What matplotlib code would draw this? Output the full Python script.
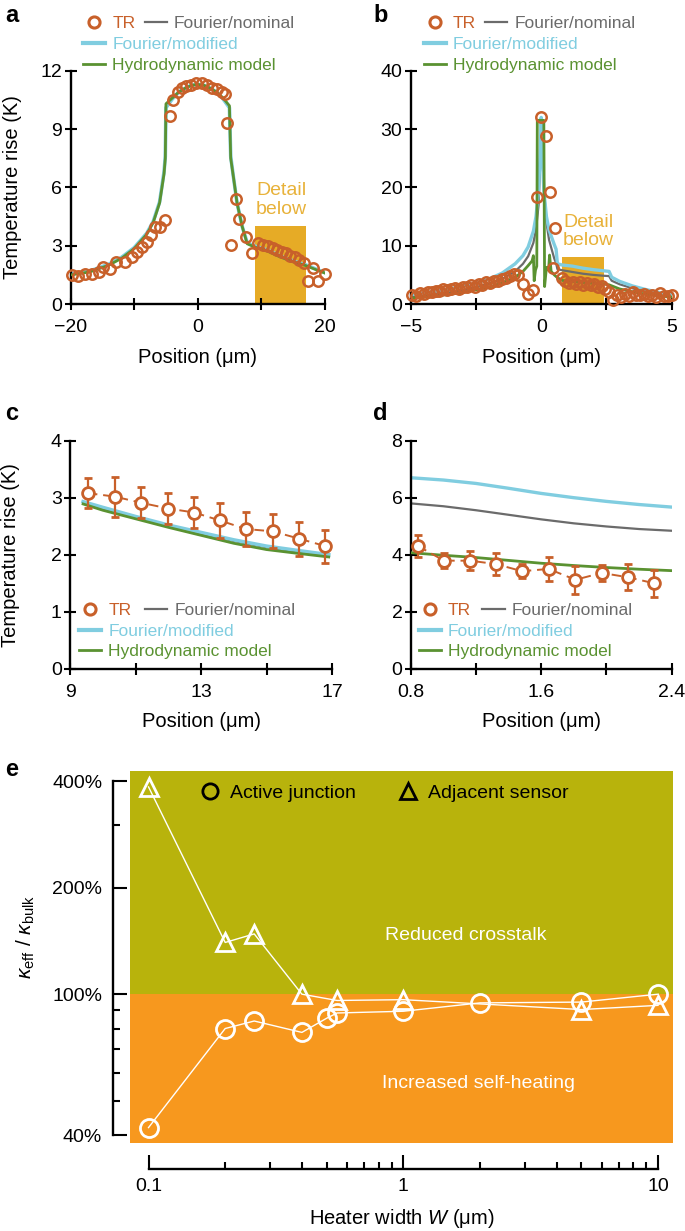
import numpy as np
import matplotlib
matplotlib.use('Agg')
import matplotlib.pyplot as plt
from matplotlib.lines import Line2D
from matplotlib.ticker import FixedLocator, NullFormatter

plt.rcParams['font.family'] = ['Liberation Sans', 'DejaVu Sans']
plt.rcParams['mathtext.fontset'] = 'custom'
plt.rcParams['mathtext.rm'] = 'Liberation Sans'
plt.rcParams['mathtext.it'] = 'Liberation Sans:italic'

# colours
C_TR = '#c8602a'
C_NOM = '#6b6b6b'
C_MOD = '#80cde0'
C_HYD = '#5a9231'
C_BOX = '#e6ab26'
C_BOXTXT = '#e8b23a'
C_BG_HI = '#b8b30c'
C_BG_LO = '#f7981e'

# ---- panel a : full profile, wide heater ----
a_tr_x = [-19.8, -18.8, -17.7, -16.7, -15.6, -14.9, -13.8, -12.8, -11.5, -10.4, -9.6, -8.8,
          -8.0, -7.3, -6.7, -6.0, -5.1, -4.4, -3.9, -3.1, -2.5, -1.8, -1.0, -0.2, 0.6, 1.4,
          2.2, 3.0, 3.75, 4.3, 4.6, 5.2, 6.1, 6.5, 7.6, 8.6, 9.5, 10.3, 11.1, 11.8, 12.5,
          13.2, 13.9, 14.6, 15.3, 16.0, 16.7, 17.4, 18.2, 18.9, 20.0]
a_tr_y = [1.49, 1.44, 1.54, 1.54, 1.66, 1.92, 1.78, 2.18, 2.18, 2.40, 2.69, 2.95,
          3.20, 3.55, 3.98, 3.98, 4.32, 9.67, 10.5, 10.9, 11.1, 11.2, 11.26, 11.35, 11.38, 11.26,
          11.14, 11.04, 10.9, 10.83, 9.29, 3.03, 5.43, 4.40, 3.46, 2.64, 3.15, 3.03, 2.98, 2.86, 2.78,
          2.69, 2.61, 2.47, 2.40, 2.26, 2.13, 1.18, 1.83, 1.18, 1.54]
a_mod_x = [-20, -17, -14, -12, -10, -8, -7, -6, -5.3, -5.1, -5.0, -4, -3, -2, -1, 0,
           1, 2, 3, 4, 5.0, 5.2, 5.6, 6.2, 7.0, 7.8, 9, 11, 13, 15, 17, 19, 20]
a_mod_y = [1.55, 1.7, 2.05, 2.4, 2.9, 3.65, 4.25, 5.25, 6.8, 7.6, 10.1, 10.55, 10.9, 11.1, 11.25, 11.3,
           11.25, 11.1, 10.9, 10.55, 10.1, 7.6, 6.6, 5.2, 4.0, 3.15, 2.98, 2.78, 2.47, 2.22, 2.02, 1.75, 1.62]
a_hyd_y = [1.5, 1.65, 2.0, 2.35, 2.85, 3.6, 4.2, 5.2, 6.7, 7.5, 10.3, 10.6, 10.9, 11.1, 11.25, 11.3,
           11.25, 11.1, 10.9, 10.6, 10.2, 7.5, 6.6, 5.2, 4.0, 3.1, 2.93, 2.72, 2.42, 2.18, 1.98, 1.72, 1.6]

# ---- panel b : full profile, narrow heater ----
b_tr_x = [-4.95, -4.8, -4.65, -4.5, -4.35, -4.2, -4.05, -3.9, -3.75, -3.6, -3.45, -3.3, -3.15,
          -3.0, -2.85, -2.7, -2.55, -2.4, -2.25, -2.1, -1.95, -1.8, -1.65, -1.5, -1.35, -1.2,
          -1.05, -0.9, -0.71, -0.49, -0.3, -0.17, -0.02, 0.19, 0.34, 0.53, 0.46,
          0.78, 0.92, 1.06, 1.2, 1.34, 1.48, 1.62, 1.76, 1.9, 2.04, 2.18, 2.32, 2.46, 2.6, 2.76,
          2.9, 3.05, 3.2, 3.35, 3.5, 3.65, 3.8, 3.95, 4.1, 4.25, 4.4, 4.55, 4.7, 4.85, 5.0]
b_tr_y = [1.5, 1.3, 1.9, 1.7, 2.0, 2.1, 2.3, 2.2, 2.5, 2.4, 2.6, 2.8, 2.6,
          3.0, 2.9, 3.2, 3.0, 3.4, 3.3, 3.7, 3.6, 4.0, 3.9, 4.3, 4.5, 4.8,
          5.2, 5.0, 3.5, 1.8, 2.4, 18.4, 32.1, 28.8, 19.3, 13.0, 6.1,
          4.4, 3.9, 3.6, 3.8, 3.5, 3.7, 3.3, 3.6, 3.2, 3.4, 3.0, 3.1, 2.5, 2.0, 0.7,
          1.6, 1.2, 1.8, 1.4, 2.0, 1.6, 1.5, 1.7, 1.3, 1.6, 1.2, 1.9, 1.4, 1.3, 1.5]
b_mod_x = [-5, -4.5, -4, -3.5, -3, -2.5, -2, -1.5, -1, -0.7, -0.5, -0.3, -0.2, -0.1, -0.04, 0,
           0.04, 0.1, 0.2, 0.3, 0.5, 0.57, 0.62, 0.8, 1.2, 1.6, 2.0, 2.4, 2.6, 2.7, 3, 3.5, 4, 4.5, 5]
b_mod_y = [1.6, 1.9, 2.2, 2.6, 3.1, 3.6, 4.3, 5.3, 6.9, 8.3, 9.8, 12.5, 15, 19.5, 26, 32,
           26, 19.5, 15, 12.7, 10.2, 9.4, 6.9, 6.7, 6.5, 6.15, 5.9, 5.7, 5.6, 4.6, 3.9, 3.1, 2.5, 2.0, 1.6]
b_nom_y = [1.2, 1.4, 1.7, 2.0, 2.4, 2.9, 3.5, 4.3, 5.6, 6.9, 8.2, 10.5, 12.8, 17, 24, 31,
           26, 20, 14, 11, 7.8, 7.0, 6.0, 5.8, 5.5, 5.2, 5.0, 4.85, 4.8, 4.0, 3.4, 2.7, 2.1, 1.7, 1.3]
b_hyd_x = [-5, -4, -3, -2, -1.5, -1, -0.7, -0.5, -0.35, -0.3, -0.27, -0.22, -0.17, -0.15, 0.1,
           0.13, 0.2, 0.28, 0.32, 0.38, 0.5, 0.6, 0.8, 1.2, 1.6, 2.0, 2.4, 2.6, 3, 3.5, 4, 4.5, 5]
b_hyd_y = [1.0, 1.4, 2.0, 2.9, 3.6, 4.6, 5.6, 6.6, 7.4, 8.3, 4.0, 5.8, 6.5, 31.5, 31.5,
           3.0, 6.3, 5.8, 8.4, 5.6, 5.0, 4.6, 4.05, 3.9, 3.7, 3.55, 3.45, 3.3, 2.6, 2.1, 1.7, 1.4, 1.2]

# ---- panel c : detail of a ----
c_tr_x = [9.54, 10.36, 11.18, 12.0, 12.79, 13.58, 14.37, 15.19, 16.0, 16.8]
c_tr_y = [3.08, 3.02, 2.91, 2.81, 2.74, 2.60, 2.45, 2.41, 2.28, 2.15]
c_tr_err = [0.26, 0.35, 0.27, 0.27, 0.27, 0.31, 0.30, 0.30, 0.30, 0.29]
c_mod_x = [9.4, 10, 11, 12, 13, 14, 15, 16, 16.9]
c_mod_y = [2.93, 2.83, 2.67, 2.52, 2.39, 2.26, 2.15, 2.07, 2.00]
c_nom_y = [2.91, 2.81, 2.65, 2.50, 2.37, 2.24, 2.13, 2.05, 1.98]
c_hyd_y = [2.89, 2.78, 2.63, 2.48, 2.34, 2.20, 2.09, 2.02, 1.96]

# ---- panel d : detail of b ----
d_tr_x = [0.843, 1.004, 1.164, 1.323, 1.483, 1.645, 1.81, 1.97, 2.13, 2.29]
d_tr_y = [4.31, 3.79, 3.79, 3.67, 3.42, 3.50, 3.12, 3.36, 3.21, 3.00]
d_tr_err = [0.38, 0.27, 0.33, 0.40, 0.25, 0.43, 0.50, 0.28, 0.45, 0.47]
d_mod_x = [0.8, 1.0, 1.2, 1.4, 1.6, 1.8, 2.0, 2.2, 2.4]
d_mod_y = [6.70, 6.62, 6.50, 6.33, 6.15, 6.00, 5.87, 5.76, 5.67]
d_nom_y = [5.80, 5.70, 5.56, 5.40, 5.24, 5.10, 4.99, 4.90, 4.84]
d_hyd_y = [4.07, 3.98, 3.90, 3.80, 3.70, 3.62, 3.55, 3.49, 3.44]

# ---- panel e : k_eff / k_bulk vs heater width ----
e_w_act = [0.1, 0.2, 0.26, 0.4, 0.5, 0.55, 1, 2, 5, 10]
e_k_act = [42, 80, 84, 78, 85.5, 88.5, 89.5, 94.5, 95, 100]
e_w_adj = [0.1, 0.2, 0.26, 0.4, 0.55, 1, 5, 10]
e_k_adj = [385, 140, 148, 100, 96, 96.5, 90.5, 93]

TICK_FS = 14
LABEL_FS = 14.5


def style_axes(ax):
    for s in ['top', 'right']:
        ax.spines[s].set_visible(False)
    for s in ['left', 'bottom']:
        ax.spines[s].set_linewidth(1.7)
    ax.tick_params(direction='inout', length=8, width=1.5, labelsize=TICK_FS)
    ax.tick_params(axis='x', pad=7)
    ax.tick_params(axis='y', pad=2)
    ax.yaxis.set_label_coords(-0.19, 0.5)
    ax.xaxis.set_label_coords(0.5, -0.19)


def add_legend(ax, x1, x2, y, tr_face):
    h_tr = Line2D([], [], ls='none', marker='o', ms=8, mew=2.2, mec=C_TR, mfc=tr_face)
    h_nom = Line2D([], [], color=C_NOM, lw=1.6)
    h_mod = Line2D([], [], color=C_MOD, lw=3)
    h_hyd = Line2D([], [], color=C_HYD, lw=2)
    kw = dict(frameon=False, fontsize=12.5, handlelength=1.3, handletextpad=0.4,
              labelspacing=0.33, borderpad=0, borderaxespad=0, loc='upper left')
    leg1 = ax.legend([h_tr, h_mod, h_hyd], ['TR', 'Fourier/modified', 'Hydrodynamic model'],
                     bbox_to_anchor=(x1, y), **kw)
    for t, c in zip(leg1.get_texts(), [C_TR, C_MOD, C_HYD]):
        t.set_color(c)
    ax.add_artist(leg1)
    leg2 = ax.legend([h_nom], ['Fourier/nominal'], bbox_to_anchor=(x2, y), **kw)
    leg2.get_texts()[0].set_color(C_NOM)


fig = plt.figure(figsize=(6.85, 12.31), dpi=100)

# panel a
ax = fig.add_axes([0.1032, 0.7530, 0.3708, 0.1895])
ax.bar([13], [4], width=8, color=C_BOX, zorder=1)
ax.text(13.2, 5.35, 'Detail\nbelow', color=C_BOXTXT, fontsize=14, ha='center', va='center',
        linespacing=1.1)
ax.plot(a_mod_x, a_mod_y, color=C_NOM, lw=1.5, zorder=2)
ax.plot(a_mod_x, a_mod_y, color=C_MOD, lw=2.6, zorder=2)
ax.plot(a_mod_x, a_hyd_y, color=C_HYD, lw=2, zorder=3)
ax.plot(a_tr_x, a_tr_y, ls='none', marker='o', ms=7.5, mew=1.8, mec=C_TR, mfc='none',
        zorder=4, clip_on=False)
ax.set_xlim(-20, 20)
ax.set_ylim(0, 12)
ax.set_xticks([-20, -10, 0, 10, 20])
ax.set_xticklabels(['\u221220', '', '0', '', '20'])
ax.set_yticks([0, 3, 6, 9, 12])
ax.set_xlabel('Position (\u03bcm)', fontsize=LABEL_FS)
ax.set_ylabel('Temperature rise (K)', fontsize=LABEL_FS)
style_axes(ax)
add_legend(ax, 0.048, 0.291, 1.236, 'none')

# panel b
ax = fig.add_axes([0.5996, 0.7530, 0.3810, 0.1895])
ax.bar([1.6], [8], width=1.6, color=C_BOX, zorder=1)
ax.text(1.82, 12.4, 'Detail\nbelow', color=C_BOXTXT, fontsize=14, ha='center', va='center',
        linespacing=1.1)
ax.plot(b_mod_x, b_nom_y, color=C_NOM, lw=1.6, zorder=2)
ax.plot(b_mod_x, b_mod_y, color=C_MOD, lw=2.4, zorder=2)
ax.plot(b_hyd_x, b_hyd_y, color=C_HYD, lw=2, zorder=3)
ax.plot(b_tr_x, b_tr_y, ls='none', marker='o', ms=7.5, mew=1.8, mec=C_TR, mfc='none',
        zorder=4, clip_on=False)
ax.set_xlim(-5, 5)
ax.set_ylim(0, 40)
ax.set_xticks([-5, -2.5, 0, 2.5, 5])
ax.set_xticklabels(['\u22125', '', '0', '', '5'])
ax.set_yticks([0, 10, 20, 30, 40])
ax.set_xlabel('Position (\u03bcm)', fontsize=LABEL_FS)
style_axes(ax)
add_legend(ax, 0.049, 0.284, 1.236, 'none')

# panel c
ax = fig.add_axes([0.1022, 0.4568, 0.3825, 0.1852])
ax.plot(c_mod_x, c_nom_y, color=C_NOM, lw=1.5, zorder=2)
ax.plot(c_mod_x, c_mod_y, color=C_MOD, lw=2.6, zorder=2)
ax.plot(c_mod_x, c_hyd_y, color=C_HYD, lw=2, zorder=3)
ax.errorbar(c_tr_x, c_tr_y, yerr=c_tr_err, fmt='o', ls=(0, (5, 3)), color=C_TR, lw=1.4,
            elinewidth=1.6, capsize=3, capthick=1.6, ms=8.5, mew=2, mfc='white', zorder=4)
ax.set_xlim(9, 17)
ax.set_ylim(0, 4)
ax.set_xticks([9, 11, 13, 15, 17])
ax.set_xticklabels(['9', '', '13', '', '17'])
ax.set_yticks([0, 1, 2, 3, 4])
ax.set_xlabel('Position (\u03bcm)', fontsize=LABEL_FS)
ax.set_ylabel('Temperature rise (K)', fontsize=LABEL_FS)
style_axes(ax)
add_legend(ax, 0.034, 0.285, 0.29, 'white')

# panel d
ax = fig.add_axes([0.5996, 0.4568, 0.3810, 0.1852])
ax.plot(d_mod_x, d_nom_y, color=C_NOM, lw=1.6, zorder=2)
ax.plot(d_mod_x, d_mod_y, color=C_MOD, lw=2.4, zorder=2)
ax.plot(d_mod_x, d_hyd_y, color=C_HYD, lw=2, zorder=3)
ax.errorbar(d_tr_x, d_tr_y, yerr=d_tr_err, fmt='o', ls=(0, (5, 3)), color=C_TR, lw=1.4,
            elinewidth=1.6, capsize=3, capthick=1.6, ms=8.5, mew=2, mfc='white', zorder=4)
ax.set_xlim(0.8, 2.4)
ax.set_ylim(0, 8)
ax.set_xticks([0.8, 1.2, 1.6, 2.0, 2.4])
ax.set_xticklabels(['0.8', '', '1.6', '', '2.4'])
ax.set_yticks([0, 2, 4, 6, 8])
ax.set_xlabel('Position (\u03bcm)', fontsize=LABEL_FS)
style_axes(ax)
add_legend(ax, 0.030, 0.275, 0.29, 'white')

# panel e
ax = fig.add_axes([0.1898, 0.0715, 0.7927, 0.3022])
ax.set_xscale('log')
ax.set_yscale('log')
ax.axhspan(100, 1000, color=C_BG_HI, lw=0, zorder=0)
ax.axhspan(1, 100, color=C_BG_LO, lw=0, zorder=0)
ax.plot(e_w_adj, e_k_adj, color='white', lw=1, marker='^', ms=13, mew=2, mfc='none',
        mec='white', zorder=3, clip_on=False)
ax.plot(e_w_act, e_k_act, color='white', lw=1, marker='o', ms=13, mew=2, mfc='none',
        mec='white', zorder=3, clip_on=False)
ax.set_xlim(0.0846, 11.45)
ax.set_ylim(38, 427)
for s in ['top', 'right']:
    ax.spines[s].set_visible(False)
ax.spines['left'].set_bounds(40, 400)
ax.spines['left'].set_position(('outward', 12))
ax.spines['bottom'].set_bounds(0.1, 10)
ax.spines['bottom'].set_position(('outward', 19))
for s in ['left', 'bottom']:
    ax.spines[s].set_linewidth(1.7)
ax.yaxis.set_major_locator(FixedLocator([40, 100, 200, 400]))
ax.yaxis.set_minor_locator(FixedLocator([50, 60, 70, 80, 90, 300]))
ax.yaxis.set_minor_formatter(NullFormatter())
ax.set_yticklabels(['40%', '100%', '200%', '400%'])
ax.xaxis.set_major_locator(FixedLocator([0.1, 1, 10]))
ax.xaxis.set_minor_locator(FixedLocator([0.2, 0.3, 0.4, 0.5, 0.6, 0.7, 0.8, 0.9,
                                         2, 3, 4, 5, 6, 7, 8, 9]))
ax.xaxis.set_minor_formatter(NullFormatter())
ax.set_xticklabels(['0.1', '1', '10'])
ax.tick_params(which='major', direction='in', length=10, width=1.5, labelsize=TICK_FS)
ax.tick_params(which='minor', direction='in', length=5, width=1.5)
ax.tick_params(axis='y', which='major', pad=8)
ax.tick_params(axis='x', which='major', pad=6)
ax.set_xlabel('Heater width $\\mathit{W}$ (\u03bcm)', fontsize=LABEL_FS)
ax.set_ylabel(r'$\kappa_{\mathrm{eff}}$ / $\kappa_{\mathrm{bulk}}$', fontsize=15)
ax.xaxis.set_label_coords(0.5, -0.172)
ax.yaxis.set_label_coords(-0.172, 0.554)
h_act = Line2D([], [], ls='none', marker='o', ms=11, mew=2, mec='black', mfc='none')
h_adj = Line2D([], [], ls='none', marker='^', ms=11, mew=2, mec='black', mfc='none')
ax.legend([h_act, h_adj], ['Active junction', 'Adjacent sensor'], ncol=2, frameon=False,
          fontsize=14, loc='center left', bbox_to_anchor=(0.13, 0.941), handlelength=1.0,
          handletextpad=0.5, columnspacing=2.2, borderpad=0, borderaxespad=0)
ax.text(0.619, 0.559, 'Reduced crosstalk', color='white', fontsize=14, ha='center',
        va='center', transform=ax.transAxes)
ax.text(0.641, 0.161, 'Increased self-heating', color='white', fontsize=14, ha='center',
        va='center', transform=ax.transAxes)

# panel letters
for lab, x, y in [('a', 5, 15), ('b', 373, 15), ('c', 5, 413), ('d', 373, 413), ('e', 5, 770)]:
    fig.text(x / 685, 1 - y / 1231, lab, fontsize=17, fontweight='bold', ha='left', va='center')

fig.savefig('out.png', dpi=100)
